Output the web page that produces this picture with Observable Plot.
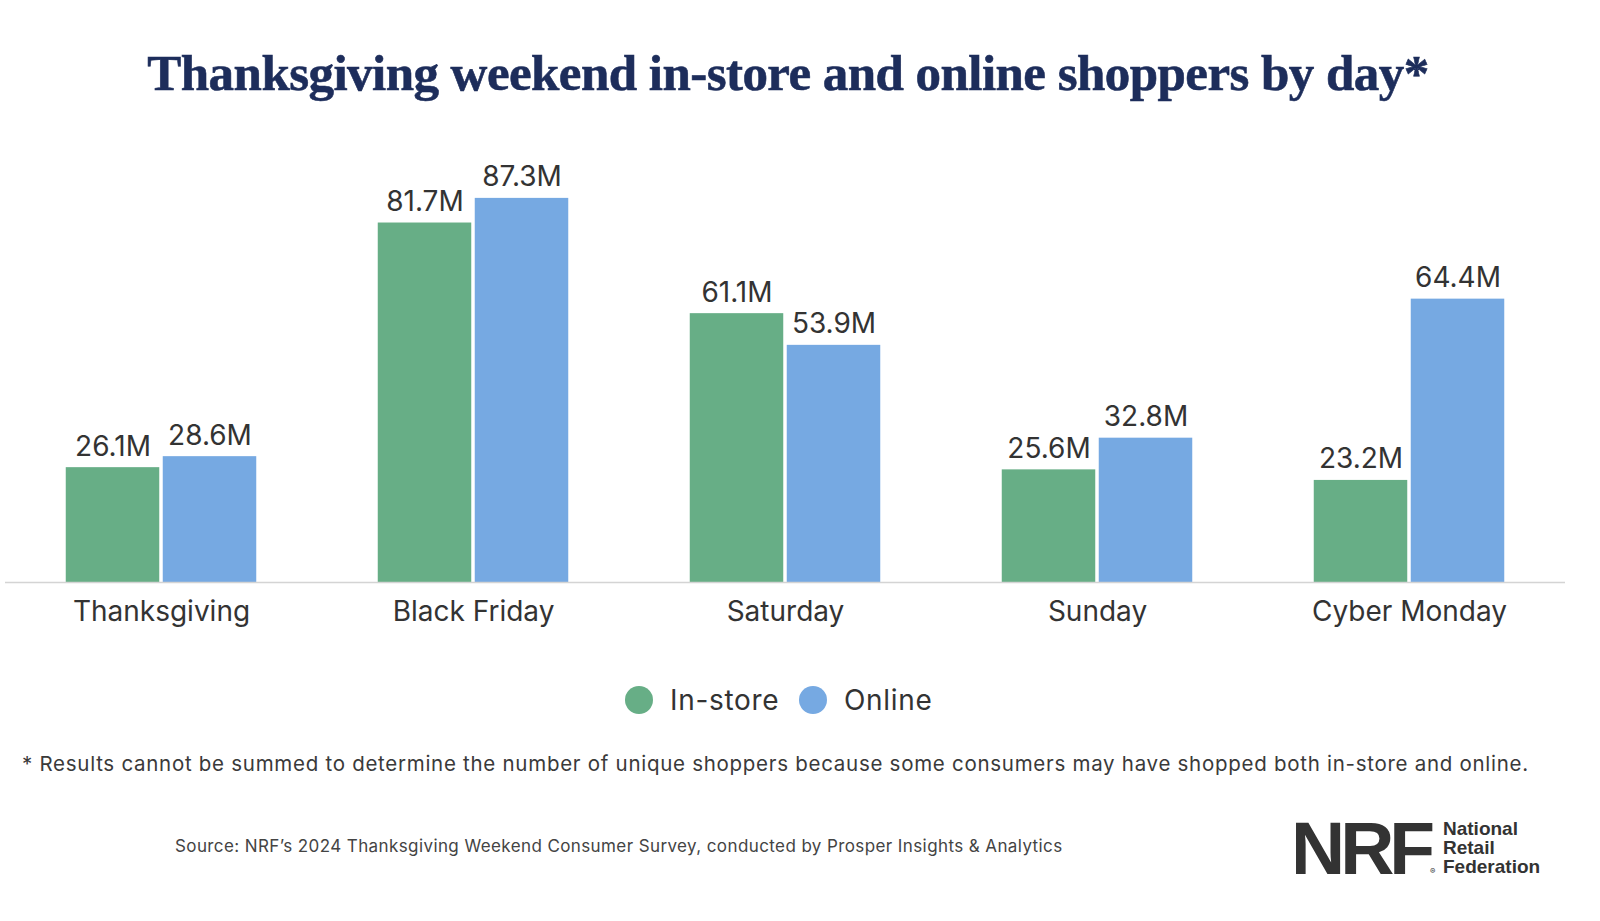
<!DOCTYPE html>
<html>
<head>
<meta charset="utf-8">
<script src="https://cdn.jsdelivr.net/npm/d3@7"></script>
<script src="https://cdn.jsdelivr.net/npm/@observablehq/plot@0.6"></script>
<style>
  html, body { margin: 0; padding: 0; background: #fff; }
  #page { position: relative; width: 1600px; height: 921px; overflow: hidden; font-family: Inter, "Noto Sans", sans-serif; color: #333; }
  #title { position: absolute; left: 0; width: 1576px; top: 40px; text-align: center; font-family: "Liberation Serif", serif; font-weight: bold; font-size: 51px; color: #1d2d5b; letter-spacing: -0.55px; line-height: 66px; -webkit-text-stroke: 0.6px #1d2d5b; }
  #chart { position: absolute; left: 0; top: 125px; }
  #legend { position: absolute; left: 0; width: 1600px; top: 683px; height: 34px; }
  .lg { position: absolute; top: 0; display: flex; align-items: center; font-size: 28px; letter-spacing: 0.7px; line-height: 34px; color: #333; }
  .dot { width: 28px; height: 28px; border-radius: 50%; display: inline-block; margin-right: 17px; }
  #foot { position: absolute; left: 22px; top: 751px; font-size: 20.5px; letter-spacing: 0.72px; color: #3a3a3a; white-space: nowrap; }
  #source { position: absolute; left: 175px; top: 836px; font-size: 17px; letter-spacing: 0.4px; color: #444; white-space: nowrap; }
  #nrf { position: absolute; left: 1291px; top: 808px; font-family: "Liberation Sans", Arial, sans-serif; font-weight: 900; font-size: 75px; line-height: 80px; letter-spacing: -5px; color: #333; }
  #reg { position: absolute; left: 1430px; top: 866px; font-size: 8px; color: #333; }
  #nrfname { position: absolute; left: 1443px; top: 819px; font-family: "Liberation Sans", Arial, sans-serif; font-weight: bold; font-size: 19px; line-height: 19px; color: #333; }
</style>
</head>
<body>
<div id="page">
  <div id="title">Thanksgiving weekend in-store and online shoppers by day*</div>
  <div id="chart"></div>
  <div id="legend"></div>
  <div id="foot">* Results cannot be summed to determine the number of unique shoppers because some consumers may have shopped both in-store and online.</div>
  <div id="source">Source: NRF’s 2024 Thanksgiving Weekend Consumer Survey, conducted by Prosper Insights &amp; Analytics</div>
  <div id="nrf">NRF</div>
  <div id="reg">®</div>
  <div id="nrfname">National<br>Retail<br>Federation</div>
</div>
<script>
const days = ["Thanksgiving", "Black Friday", "Saturday", "Sunday", "Cyber Monday"];
const inStore = [26.1, 81.7, 61.1, 25.6, 23.2];
const online = [28.6, 87.3, 53.9, 32.8, 64.4];
const series = ["In-store", "Online"];
const colors = ["#67ae86", "#76a9e2"];

const data = days.flatMap((d, i) => [
  {day: d, type: series[0], value: inStore[i]},
  {day: d, type: series[1], value: online[i]}
]);

const chart = Plot.plot({
  width: 1600,
  height: 520,
  marginLeft: 5,
  marginRight: 35,
  marginTop: 17,
  marginBottom: 63,
  fx: {domain: days, padding: 0, label: null, axis: null},
  x: {domain: series, paddingInner: 0, paddingOuter: 0.6, axis: null},
  y: {domain: [0, 100], axis: null},
  color: {domain: series, range: colors},
  style: {fontFamily: "Inter, 'Noto Sans', sans-serif", color: "#333", background: "transparent"},
  marks: [
    Plot.barY(data, {fx: "day", x: "type", y: "value", fill: "type", insetLeft: 1.75, insetRight: 1.75}),
    Plot.ruleY([0], {stroke: "#d4d4d4", strokeWidth: 1.5}),
    Plot.text(data, {fx: "day", x: "type", y: "value", text: d => d.value.toFixed(1) + "M", lineAnchor: "bottom", dy: -12, fontSize: 28, fill: "#333", letterSpacing: 1}),
    Plot.axisFx({anchor: "bottom", tickSize: 0, tickPadding: 19, fontSize: 28, label: null, fill: "#333", letterSpacing: 1})
  ]
});
document.getElementById("chart").appendChild(chart);

// legend
const legend = document.getElementById("legend");
const legendX = [625, 799];
series.forEach((s, i) => {
  const el = document.createElement("div");
  el.className = "lg";
  el.style.left = legendX[i] + "px";
  const dot = document.createElement("span");
  dot.className = "dot";
  dot.style.background = colors[i];
  el.appendChild(dot);
  el.appendChild(document.createTextNode(s));
  legend.appendChild(el);
});
</script>
</body>
</html>
